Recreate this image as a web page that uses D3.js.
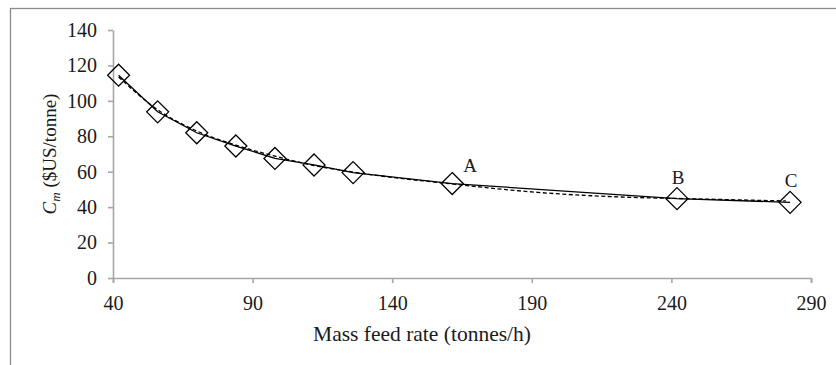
<!DOCTYPE html>
<html>
<head>
<meta charset="utf-8">
<script src="https://cdn.jsdelivr.net/npm/d3@7"></script>
<style>
  body { margin: 0; background: #fff; }
  svg, text { font-family: "Liberation Serif", "Times New Roman", serif; fill: #1a1a1a; }
</style>
</head>
<body>
<script>
// data
var feedRate = [42, 56, 70, 84, 98, 112, 126, 161.5, 242, 282.5]
var costPerTonne = [114.5, 93.8, 82, 74.5, 67.5, 63.8, 59.5, 53.3, 44.8, 42.7]
var pointLabels = ['', '', '', '', '', '', '', 'A', 'B', 'C']

// dashed trend curve, read at a few x positions
var trendRate = [42, 56, 70, 84, 98, 112, 126, 162, 190, 228, 242, 281]
var trendCost = [113.5, 95, 83, 75, 68.8, 63.5, 59.8, 53, 48.6, 45.4, 44.9, 43.5]

var xTicks = [40, 90, 140, 190, 240, 290]
var yTicks = [0, 20, 40, 60, 80, 100, 120, 140]

var width = 836, height = 365
var margin = {top: 30, right: 25, bottom: 87, left: 113}

var svg = d3.select('body').append('svg')
    .attr('width', width)
    .attr('height', height)

// chart border (runs off the right and bottom edge)
svg.append('rect')
    .attr('x', 10.5).attr('y', 8.5)
    .attr('width', width + 20).attr('height', height + 20)
    .attr('fill', 'none')
    .attr('stroke', '#8c8c8c')
    .attr('stroke-width', 1.3)

var x = d3.scaleLinear().domain([40, 290]).range([margin.left, width - margin.right])
var y = d3.scaleLinear().domain([0, 140]).range([height - margin.bottom, margin.top])

//axes
var xAxis = svg.append('g')
    .attr('transform', 'translate(0,' + y(0) + ')')
    .call(d3.axisBottom(x).tickValues(xTicks).tickSize(5).tickSizeOuter(5).tickPadding(13))
var yAxis = svg.append('g')
    .attr('transform', 'translate(' + x(40) + ',0)')
    .call(d3.axisLeft(y).tickValues(yTicks).tickSize(5).tickSizeOuter(0).tickPadding(11))

svg.selectAll('.domain, .tick line')
    .attr('stroke', '#a6a6a6')
    .attr('stroke-width', 1.6)
svg.selectAll('g.tick text')
    .attr('font-family', '"Liberation Serif", serif')
    .style('font-family', '"Liberation Serif", serif')
    .style('font-size', '20px')
    .attr('fill', '#1a1a1a')

// axis titles (x title is centred on the whole chart box, as in the source)
svg.append('text')
    .attr('x', 422)
    .attr('y', 341)
    .attr('text-anchor', 'middle')
    .style('font-size', '21.5px')
    .text('Mass feed rate (tonnes/h)')

var yTitle = svg.append('text')
    .attr('transform', 'translate(56,' + y(70) + ') rotate(-90)')
    .attr('text-anchor', 'middle')
    .style('font-size', '19px')
yTitle.append('tspan').attr('font-style', 'italic').text('C')
yTitle.append('tspan').attr('font-style', 'italic').attr('font-size', '13px').attr('dy', 4).text('m')
yTitle.append('tspan').attr('dy', -4).text(' ($US/tonne)')

var points = feedRate.map(function(d, i) { return {x: d, y: costPerTonne[i], label: pointLabels[i]} })
var trend = trendRate.map(function(d, i) { return {x: d, y: trendCost[i]} })

// dashed trend
svg.append('path')
    .datum(trend)
    .attr('fill', 'none')
    .attr('stroke', '#000')
    .attr('stroke-width', 1.3)
    .attr('stroke-dasharray', '4,2.5')
    .attr('d', d3.line().x(d => x(d.x)).y(d => y(d.y)).curve(d3.curveMonotoneX))

// solid data line
svg.append('path')
    .datum(points)
    .attr('fill', 'none')
    .attr('stroke', '#000')
    .attr('stroke-width', 1.3)
    .attr('d', d3.line().x(d => x(d.x)).y(d => y(d.y)))

// diamond markers
svg.selectAll('path.marker')
    .data(points)
    .enter()
    .append('path')
    .attr('class', 'marker')
    .attr('d', 'M0,-11L11,0L0,11L-11,0Z')
    .attr('transform', d => 'translate(' + x(d.x) + ',' + y(d.y) + ')')
    .attr('fill', 'none')
    .attr('stroke', '#000')
    .attr('stroke-width', 1.3)

// A, B, C labels
svg.selectAll('text.pt')
    .data(points.filter(d => d.label))
    .enter()
    .append('text')
    .attr('class', 'pt')
    .attr('x', d => x(d.x) + (d.label == 'A' ? 18 : 1))
    .attr('y', d => y(d.y) - (d.label == 'A' ? 12 : 15))
    .attr('text-anchor', 'middle')
    .style('font-size', '19px')
    .text(d => d.label)
</script>
</body>
</html>
